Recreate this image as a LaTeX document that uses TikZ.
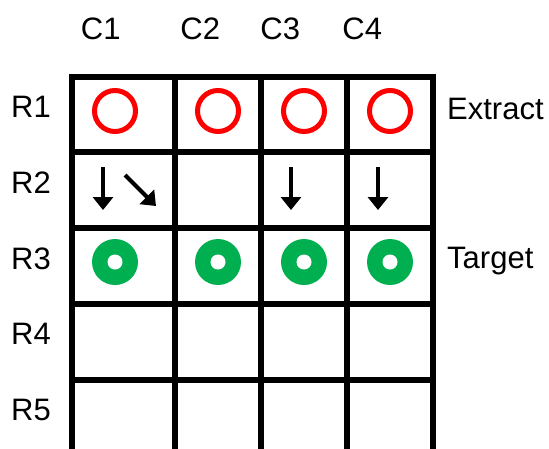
\documentclass[tikz,border=0pt]{standalone}
\usepackage{fontspec}
\setmainfont{Liberation Sans}
\usetikzlibrary{arrows.meta}
\definecolor{xred}{HTML}{FF0000}
\definecolor{xgreen}{HTML}{00B050}
\begin{document}
\begin{tikzpicture}[x=1pt,y=-1pt,
  lbl/.style={inner sep=0pt,anchor=base,font=\fontsize{31}{31}\selectfont},
  lblw/.style={inner sep=0pt,anchor=base west,font=\fontsize{31}{31}\selectfont},
  gridline/.style={line width=6pt},
  extract/.style={circle,draw=xred,line width=5pt,minimum size=41pt,inner sep=0pt},
  target/.style={circle,fill=xgreen,minimum size=46pt,inner sep=0pt},
  hole/.style={circle,fill=white,minimum size=15pt,inner sep=0pt},
  moveptr/.style={line width=4pt,-{Triangle[width=20pt,length=13pt]}}]
\useasboundingbox (0,0) rectangle (549,448);
\fill[white] (0,0) rectangle (549,448);
% grid
\foreach \y in {77,152,228,304,380}
  \draw[gridline] (69,\y) -- (436,\y);
\foreach \x in {72,175,261,347,433}
  \draw[gridline] (\x,74) -- (\x,470);
% column labels
\node[lbl] (c1) at (100.8,39) {C1};
\node[lbl] (c2) at (200.3,39) {C2};
\node[lbl] (c3) at (280.3,39) {C3};
\node[lbl] (c4) at (362.3,39) {C4};
% row labels
\node[lblw] (r1) at (11,117) {R1};
\node[lblw] (r2) at (11,193) {R2};
\node[lblw] (r3) at (11,269) {R3};
\node[lblw] (r4) at (11,344) {R4};
\node[lblw] (r5) at (11,420) {R5};
% side labels
\node[lblw] (ex) at (447,119) {Extract};
\node[lblw] (tg) at (447,268) {Target};
% extract circles
\node[extract] (e1) at (115,111) {};
\node[extract] (e2) at (218,111) {};
\node[extract] (e3) at (304,111) {};
\node[extract] (e4) at (390,111) {};
% targets
\foreach \x/\n in {115/1,218/2,304/3,390/4}{
  \node[target] (t\n) at (\x,262) {};
  \node[hole] (h\n) at (\x,262) {};
}
% arrows
\coordinate (a1s) at (103,167); \coordinate (a1e) at (103,210);
\coordinate (a2s) at (125,175); \coordinate (a2e) at (156,206);
\coordinate (a3s) at (291,167); \coordinate (a3e) at (291,210);
\coordinate (a4s) at (378,167); \coordinate (a4e) at (378,210);
\draw[moveptr] (a1s) -- (a1e);
\draw[moveptr] (a2s) -- (a2e);
\draw[moveptr] (a3s) -- (a3e);
\draw[moveptr] (a4s) -- (a4e);
\end{tikzpicture}
\end{document}
